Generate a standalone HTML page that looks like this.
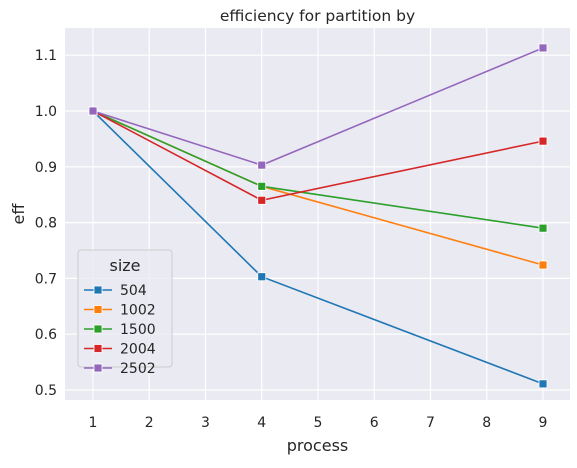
<!DOCTYPE html>
<html><head><meta charset="utf-8"><style>
body{margin:0;background:#fff;font-family:"Liberation Sans","DejaVu Sans",sans-serif}
svg text{font-family:"DejaVu Sans","Liberation Sans",sans-serif;fill:#262626}
</style></head><body>
<svg id="chart" width="577" height="463">
<rect x="65" y="28" width="505" height="372" fill="#eaeaf2"/>
<g id="grid"></g><g id="series"></g><g id="axes"></g><g id="legend"></g>
<text x="317.5" y="21" text-anchor="middle" font-size="15.5">efficiency for partition by</text>
<text x="317.5" y="451" text-anchor="middle" font-size="16">process</text>
<text x="24" y="214" text-anchor="middle" font-size="16" transform="rotate(-90 24 214)">eff</text>
</svg>
<script>
const processes=[1,4,9];
const seriesNames=["504","1002","1500","2004","2502"];
const s504=[1.0,0.703,0.511];
const s1002=[1.0,0.865,0.724];
const s1500=[1.0,0.865,0.790];
const s2004=[1.0,0.840,0.946];
const s2502=[1.0,0.903,1.113];
const xTicks=[1,2,3,4,5,6,7,8,9];
const yTicks=[0.5,0.6,0.7,0.8,0.9,1.0,1.1];
const allSeries=[s504,s1002,s1500,s2004,s2502];
const colors=["#1f77b4","#ff7f0e","#2ca02c","#d62728","#9467bd"];
const NS="http://www.w3.org/2000/svg";
const xs=v=>93+(v-1)*56.25;
const ys=v=>390-(v-0.5)*558;
function mk(tag,attrs,parent){const e=document.createElementNS(NS,tag);for(const k in attrs)e.setAttribute(k,attrs[k]);document.getElementById(parent).appendChild(e);return e;}
xTicks.forEach(t=>{
 const l=mk("line",{x1:xs(t),x2:xs(t),y1:28,y2:400,stroke:"#fff","stroke-width":1.2},"grid");
 
 
 const tx=mk("text",{x:xs(t),y:427,"text-anchor":"middle","font-size":14},"axes");
 tx.textContent=t;
 
 
});
yTicks.forEach(t=>{
 const l=mk("line",{x1:65,x2:570,y1:ys(t),y2:ys(t),stroke:"#fff","stroke-width":1.2},"grid");
 
 
 const tx=mk("text",{x:57,y:ys(t)+5,"text-anchor":"end","font-size":14},"axes");
 tx.textContent=t.toFixed(1);
 
 
});
allSeries.forEach((s,i)=>{
 const pts=s.map((v,j)=>xs(processes[j])+","+ys(v)).join(" ");
 const pl=mk("polyline",{points:pts,fill:"none",stroke:colors[i],"stroke-width":1.6},"series");
 
 
 s.forEach((v,j)=>{
  const r=mk("rect",{x:xs(processes[j])-4,y:ys(v)-4,width:8,height:8,fill:colors[i],stroke:"#fff","stroke-width":0.8},"series");
  
  
 });
});
const lb=mk("rect",{x:78,y:250,width:94,height:117,rx:3,fill:"#eaeaf2",stroke:"#cccccc","fill-opacity":0.8},"legend");


const lt=mk("text",{x:125,y:271,"text-anchor":"middle","font-size":16},"legend");
lt.textContent="size";


seriesNames.forEach((n,i)=>{
 const y=290+i*19.5;
 const l=mk("line",{x1:84,x2:112,y1:y,y2:y,stroke:colors[i],"stroke-width":1.6},"legend");
 
 
 const r=mk("rect",{x:94,y:y-4,width:8,height:8,fill:colors[i],stroke:"#fff","stroke-width":0.8},"legend");
 
 
 const t=mk("text",{x:120,y:y+5,"font-size":14},"legend");
 t.textContent=n;
 
 
});
</script>
</body></html>
